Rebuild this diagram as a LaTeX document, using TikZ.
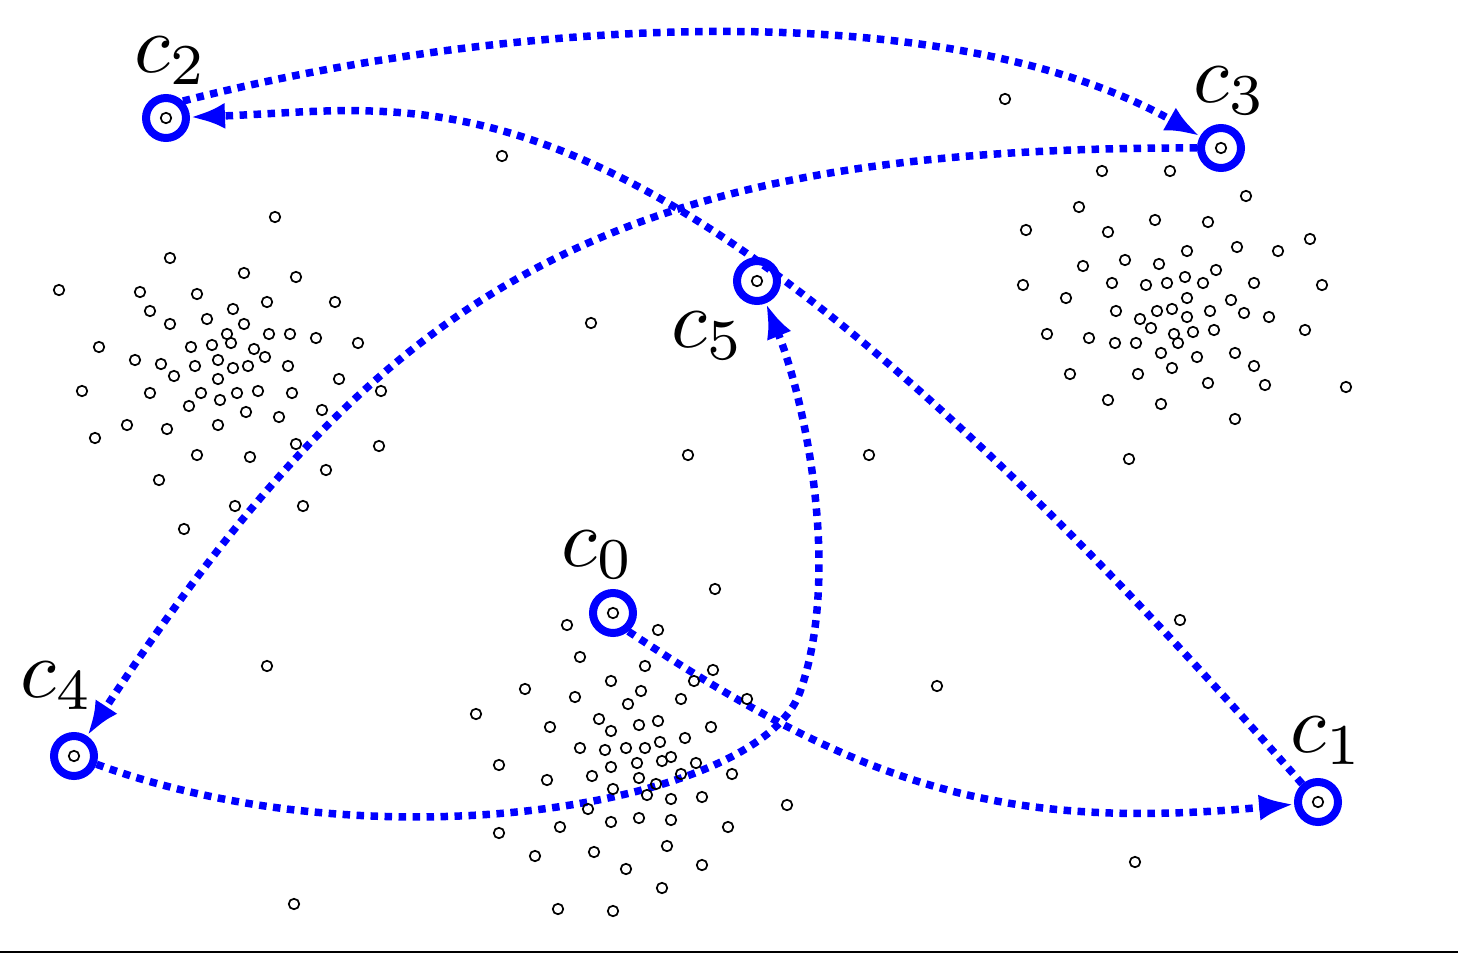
\documentclass[tikz,border=0pt]{standalone}
\usepackage{graphicx}
\usetikzlibrary{arrows.meta}
\begin{document}
\begin{tikzpicture}[x=0.02cm,y=-0.02cm,
  ptline/.style={draw=black,line width=0.034cm},
  ctr/.style={circle,draw=blue,line width=0.16cm,minimum size=0.8cm,inner sep=0pt},
  conn/.style={draw=blue,line width=0.15cm,dash pattern=on 0.15cm off 0.13cm,
    -{Latex[length=0.7cm,width=0.52cm]}},
  lbl/.style={inner sep=0pt,anchor=base west}]
\useasboundingbox (0,0) rectangle (1458,954);
\draw[line width=0.04cm] (0,952) -- (1458,952);
% cluster centres
\node[ctr] (c0) at (613,613) {};
\node[ctr] (c1) at (1318,802) {};
\node[ctr] (c2) at (166,118) {};
\node[ctr] (c3) at (1221,148) {};
\node[ctr] (c4) at (74,756) {};
\node[ctr] (c5) at (757,281) {};
\coordinate (m45) at (800,692);
% connectors
\draw[conn] (c0.-50) .. controls (860,785) and (1000,832) .. (c1);
\draw[conn] (c1) .. controls (647,37) and (442,108) .. (c2);
\draw[conn] (c2.45) .. controls (500,20) and (940,-10) .. (c3);
\draw[conn] (c3) .. controls (620,147) and (390,275) .. (c4);
\draw[conn] (c4) .. controls (380,868) and (760,805) .. (m45) .. controls (842,574) and (805,400) .. (c5);
% data points
\foreach \p in {(275,217),(170,258),(244,273),(296,277),(59,290),(140,292),(197,294),(267,302),(335,302),(150,311),(233,309),(170,324),(207,319),(244,324),(227,334),(231,343),(269,334),(290,334),(316,338),(358,343),(99,347),(191,347),(212,345),(254,349),(265,357),(135,360),(161,364),(195,366),(218,360),(233,368),(248,366),(288,366),(174,376),(218,379),(339,379),(82,391),(150,393),(201,393),(220,400),(237,393),(258,391),(292,393),(381,391),(189,406),(246,412),(279,417),(322,410),(127,425),(167,429),(218,425),(95,438),(296,444),(379,446),(197,455),(250,457),(326,470),(159,480),(235,506),(303,506),(184,529),
(1005,99),(1102,171),(1170,171),(1246,196),(1079,207),(1155,220),(1208,222),(1026,230),(1108,232),(1310,239),(1187,251),(1237,247),(1278,251),(1125,260),(1159,264),(1083,266),(1216,270),(1023,285),(1112,283),(1146,285),(1167,283),(1185,277),(1203,283),(1254,283),(1322,285),(1066,298),(1187,298),(1231,300),(1116,311),(1157,311),(1172,309),(1210,311),(1244,313),(1269,317),(1140,319),(1187,317),(1151,328),(1047,334),(1089,338),(1115,343),(1136,343),(1174,334),(1178,343),(1193,332),(1214,330),(1305,330),(1161,353),(1197,357),(1235,353),(1172,368),(1254,366),(1070,374),(1138,374),(1208,383),(1265,385),(1346,387),(1108,400),(1161,404),(1235,419),(1129,459),
(715,589),(567,625),(658,630),(580,657),(645,666),(713,670),(611,681),(525,689),(575,697),(641,691),(694,681),(681,699),(747,699),(628,704),(476,714),(599,719),(639,725),(658,721),(711,727),(550,727),(611,731),(685,738),(660,742),(580,748),(605,750),(626,748),(645,748),(671,757),(662,761),(696,763),(637,763),(611,767),(499,765),(592,776),(639,778),(681,774),(732,774),(547,780),(656,784),(613,789),(647,795),(671,799),(702,797),(588,809),(787,805),(611,822),(639,818),(671,820),(560,827),(499,833),(728,827),(667,846),(594,852),(535,856),(702,865),(626,869),(662,888),(558,909),(613,911),
(502,156),(591,323),(688,455),(869,455),(937,686),(1180,620),(1135,862),(267,666),(294,904),
(613,613),(1318,802),(166,118),(1221,148),(74,756),(757,281)}
  \draw[ptline] \p circle[radius=0.105cm];
% labels
\node[lbl] (l2) at (134,72) {\scalebox{4.7}{$c_2$}};
\node[lbl] (l3) at (1193,102) {\scalebox{4.7}{$c_3$}};
\node[lbl] (l5) at (671,347) {\scalebox{4.7}{$c_5$}};
\node[lbl] (l0) at (561,566) {\scalebox{4.7}{$c_0$}};
\node[lbl] (l4) at (20,697) {\scalebox{4.7}{$c_4$}};
\node[lbl] (l1) at (1290,752) {\scalebox{4.7}{$c_1$}};
\end{tikzpicture}
\end{document}
